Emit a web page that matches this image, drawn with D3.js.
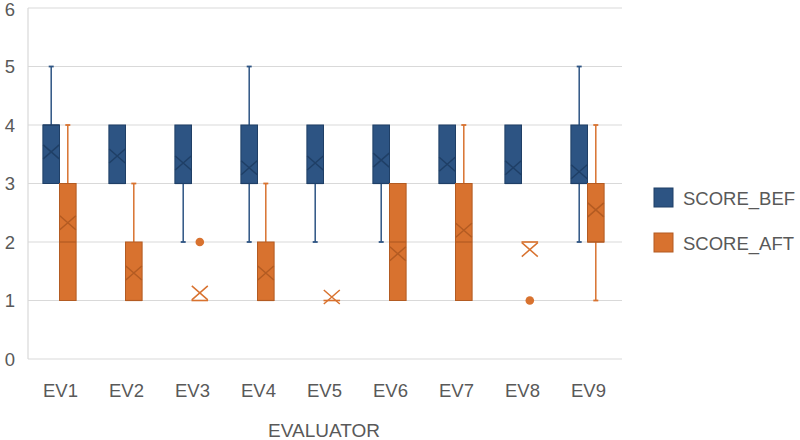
<!DOCTYPE html>
<html>
<head>
<meta charset="utf-8">
<script src="https://cdn.jsdelivr.net/npm/d3@7"></script>
<style>
  body { margin: 0; background: #fff; }
  text { font-family: "Liberation Sans", Arial, sans-serif; fill: #595959; }
</style>
</head>
<body>
<svg width="800" height="440"></svg>
<script>
// evaluators on the x axis
const categories = ["EV1", "EV2", "EV3", "EV4", "EV5", "EV6", "EV7", "EV8", "EV9"]
const seriesNames = ["SCORE_BEF", "SCORE_AFT"]
const yTicks = [0, 1, 2, 3, 4, 5, 6]

// SCORE_BEF box stats
const befLow = [3, 3, 2, 2, 2, 2, 3, 3, 2]
const befQ1 = [3, 3, 3, 3, 3, 3, 3, 3, 3]
const befMedian = [4, 3, 3, 3, 3, 3, 3, 3, 3]
const befQ3 = [4, 4, 4, 4, 4, 4, 4, 4, 4]
const befHigh = [5, 4, 4, 5, 4, 4, 4, 4, 5]
const befMean = [3.54, 3.47, 3.35, 3.27, 3.35, 3.40, 3.33, 3.27, 3.20]
const befOutliers = [[], [], [], [], [], [], [], [], []]

// SCORE_AFT box stats
const aftLow = [1, 1, 1, 1, 1, 1, 1, 2, 1]
const aftQ1 = [1, 1, 1, 1, 1, 1, 1, 2, 2]
const aftMedian = [2, 1, 1, 1, 1, 2, 2, 2, 2]
const aftQ3 = [3, 2, 1, 2, 1, 3, 3, 2, 3]
const aftHigh = [4, 3, 1, 3, 1, 3, 4, 2, 4]
const aftMean = [2.33, 1.47, 1.13, 1.47, 1.06, 1.80, 2.20, 1.87, 2.55]
const aftOutliers = [[], [], [2], [], [], [], [], [1], []]

const colors = { SCORE_BEF: "#2d5483", SCORE_AFT: "#d8722f" }
const darker = { SCORE_BEF: "#1f3f66", SCORE_AFT: "#b35b22" }

let stats = {
    SCORE_BEF: { low: befLow, q1: befQ1, med: befMedian, q3: befQ3, high: befHigh, mean: befMean, out: befOutliers },
    SCORE_AFT: { low: aftLow, q1: aftQ1, med: aftMedian, q3: aftQ3, high: aftHigh, mean: aftMean, out: aftOutliers },
}

const svg = d3.select("svg")
const plot = { left: 28, right: 622, top: 8, bottom: 359 }

let y = d3.scaleLinear().domain([0, 6]).range([plot.bottom, plot.top])
let x = d3.scaleBand().domain(categories).range([26.5, 620.5])
let xs = d3.scaleBand().domain(seriesNames).range([0, 33.2])
let groupOffset = (x.bandwidth() - xs.range()[1]) / 2

// gridlines
svg.append("g").selectAll("line").data(yTicks).enter().append("line")
    .attr("x1", plot.left).attr("x2", plot.right)
    .attr("y1", d => y(d)).attr("y2", d => y(d))
    .attr("stroke", "#d9d9d9").attr("stroke-width", 1.2)
svg.append("line")
    .attr("x1", plot.left).attr("x2", plot.left)
    .attr("y1", y(6)).attr("y2", y(0))
    .attr("stroke", "#d9d9d9").attr("stroke-width", 1.2)

// y labels (top one nudged so it stays inside the frame)
svg.append("g").selectAll("text").data(yTicks).enter().append("text")
    .attr("x", 15).attr("y", d => Math.max(y(d) + 6.5, 16))
    .attr("text-anchor", "end").attr("font-size", 18.5)
    .text(d => d)

// x labels
svg.append("g").selectAll("text").data(categories).enter().append("text")
    .attr("x", d => x(d) + x.bandwidth() / 2 + 1)
    .attr("y", 397)
    .attr("text-anchor", "middle").attr("font-size", 18.5)
    .text(d => d)

svg.append("text")
    .attr("x", 324).attr("y", 437)
    .attr("text-anchor", "middle").attr("font-size", 19)
    .text("EVALUATOR")

// boxes
for (let s of seriesNames) {
    let st = stats[s]
    let g = svg.append("g")
    let w = xs.bandwidth()
    categories.forEach((c, i) => {
        let x0 = x(c) + groupOffset + xs(s)
        let cx = x0 + w / 2
        // whiskers
        if (st.high[i] > st.q3[i]) {
            g.append("line").attr("x1", cx).attr("x2", cx)
                .attr("y1", y(st.q3[i])).attr("y2", y(st.high[i]))
                .attr("stroke", colors[s]).attr("stroke-width", 1.5)
            g.append("line").attr("x1", cx - 2.5).attr("x2", cx + 2.5)
                .attr("y1", y(st.high[i])).attr("y2", y(st.high[i]))
                .attr("stroke", colors[s]).attr("stroke-width", 1.8)
        }
        if (st.low[i] < st.q1[i]) {
            g.append("line").attr("x1", cx).attr("x2", cx)
                .attr("y1", y(st.q1[i])).attr("y2", y(st.low[i]))
                .attr("stroke", colors[s]).attr("stroke-width", 1.5)
            g.append("line").attr("x1", cx - 2.5).attr("x2", cx + 2.5)
                .attr("y1", y(st.low[i])).attr("y2", y(st.low[i]))
                .attr("stroke", colors[s]).attr("stroke-width", 1.8)
        }
        // box (a flat line when q1 == q3)
        if (st.q3[i] > st.q1[i]) {
            g.append("rect")
                .attr("x", x0).attr("y", y(st.q3[i]))
                .attr("width", w).attr("height", y(st.q1[i]) - y(st.q3[i]))
                .attr("fill", colors[s]).attr("stroke", darker[s]).attr("stroke-width", 1)
            g.append("line").attr("x1", x0).attr("x2", x0 + w)
                .attr("y1", y(st.med[i])).attr("y2", y(st.med[i]))
                .attr("stroke", darker[s]).attr("stroke-width", 1.2)
        } else {
            g.append("line").attr("x1", x0).attr("x2", x0 + w)
                .attr("y1", y(st.q1[i])).attr("y2", y(st.q1[i]))
                .attr("stroke", colors[s]).attr("stroke-width", 1.6)
        }
        // mean marker
        let my = y(st.mean[i])
        g.append("path")
            .attr("d", `M${cx - 8},${my - 7}L${cx + 8},${my + 7}M${cx - 8},${my + 7}L${cx + 8},${my - 7}`)
            .attr("stroke", st.q3[i] > st.q1[i] ? darker[s] : colors[s])
            .attr("stroke-width", 1.5).attr("fill", "none")
        // outliers
        st.out[i].forEach(v => {
            g.append("circle").attr("cx", cx).attr("cy", y(v)).attr("r", 4.3)
                .attr("fill", colors[s])
        })
    })
}

// legend
let legend = svg.append("g").selectAll("g").data(seriesNames).enter().append("g")
    .attr("transform", (d, i) => `translate(654,${188 + i * 45})`)
legend.append("rect")
    .attr("width", 19).attr("height", 19)
    .attr("fill", d => colors[d]).attr("stroke", d => darker[d]).attr("stroke-width", 1)
legend.append("text")
    .attr("x", 29).attr("y", 16.5)
    .attr("font-size", 18.5)
    .text(d => d)
</script>
</body>
</html>
